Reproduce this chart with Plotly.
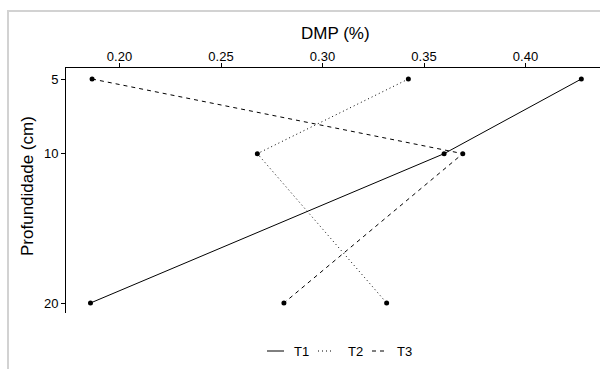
import plotly.graph_objects as go

# Depth (cm) and DMP (%) for each treatment
depth = [5, 10, 20]
series_names = ["T1", "T2", "T3"]
dmp_t1 = [0.4275, 0.3599, 0.1857]
dmp_t2 = [0.3423, 0.2679, 0.3316]
dmp_t3 = [0.1865, 0.3691, 0.2810]
x_ticks = [0.20, 0.25, 0.30, 0.35, 0.40]
y_ticks = [5, 10, 20]

dash_styles = ["solid", "1px,3px", "4px,4px"]
FONT = "Liberation Sans, Arial, sans-serif"

W, H = 600, 369
L, R, T, B = 66, 0, 68, 56
PW, PH = W - L - R, H - T - B


def px_x(px):
    return (px - L) / PW


def px_y(py):
    return (H - B - py) / PH


fig = go.Figure()
for name, vals, dash in zip(series_names, [dmp_t1, dmp_t2, dmp_t3], dash_styles):
    fig.add_trace(go.Scatter(
        x=vals, y=depth, name=name, mode="lines+markers",
        line=dict(color="black", width=1, dash=dash),
        marker=dict(color="black", size=5),
        showlegend=False,
    ))

shapes = []
annotations = []

# light grey frame on the outer top/left edge
shapes.append(dict(type="line", xref="paper", yref="paper",
                   x0=px_x(8), x1=px_x(8), y0=px_y(10), y1=px_y(372),
                   line=dict(color="#d2d2d2", width=2)))
shapes.append(dict(type="line", xref="paper", yref="paper",
                   x0=px_x(7), x1=px_x(603), y0=px_y(11), y1=px_y(11),
                   line=dict(color="#d2d2d2", width=2)))

# legend drawn below the plot: line sample + label per series
leg_y = px_y(351)
seg_px = [(267, 284), (318, 334), (372, 388)]
lab_px = [292, 346, 395]
for name, dash, (a, b), lx in zip(series_names, dash_styles, seg_px, lab_px):
    shapes.append(dict(type="line", xref="paper", yref="paper",
                       x0=px_x(a), x1=px_x(b), y0=leg_y, y1=leg_y,
                       line=dict(color="black", width=1, dash=dash)))
    annotations.append(dict(text=name, xref="paper", yref="paper",
                            x=px_x(lx), y=leg_y, xanchor="left", yanchor="middle",
                            showarrow=False, font=dict(family=FONT, size=13, color="black")))

# axis titles
annotations.append(dict(text="DMP (%)", xref="paper", yref="paper",
                        x=px_x(335), y=px_y(33), xanchor="center", yanchor="middle",
                        showarrow=False, font=dict(family=FONT, size=17, color="black")))
annotations.append(dict(text="Profundidade (cm)", xref="paper", yref="paper",
                        x=px_x(27), y=px_y(186), xanchor="center", yanchor="middle",
                        textangle=-90, showarrow=False,
                        font=dict(family=FONT, size=17, color="black")))

x_px_per_unit = (525.5 - 119.5) / 0.20
y_px_per_unit = (303 - 79) / 15.0

fig.update_layout(
    width=W, height=H, autosize=False,
    margin=dict(l=L, r=R, t=T, b=B, pad=0),
    paper_bgcolor="white", plot_bgcolor="white",
    font=dict(family=FONT, size=13, color="black"),
    shapes=shapes, annotations=annotations,
    xaxis=dict(
        side="top",
        range=[0.20 - (119.5 - L) / x_px_per_unit, 0.20 + (W - 119.5) / x_px_per_unit],
        tickvals=x_ticks, ticktext=[f"{v:.2f}" for v in x_ticks],
        showline=True, linecolor="black", linewidth=1,
        ticks="outside", ticklen=4, tickcolor="black", tickwidth=1,
        ticklabelstandoff=-3,
        showgrid=False, zeroline=False,
        tickfont=dict(family=FONT, size=13, color="black"),
    ),
    yaxis=dict(
        range=[20 + (H - B - 303) / y_px_per_unit, 5 - (79 - T) / y_px_per_unit],
        tickvals=y_ticks, ticktext=[str(v) for v in y_ticks],
        showline=True, linecolor="black", linewidth=1,
        ticks="outside", ticklen=4, tickcolor="black", tickwidth=1,
        showgrid=False, zeroline=False,
        tickfont=dict(family=FONT, size=13, color="black"),
    ),
)

fig.write_html("out.html")
